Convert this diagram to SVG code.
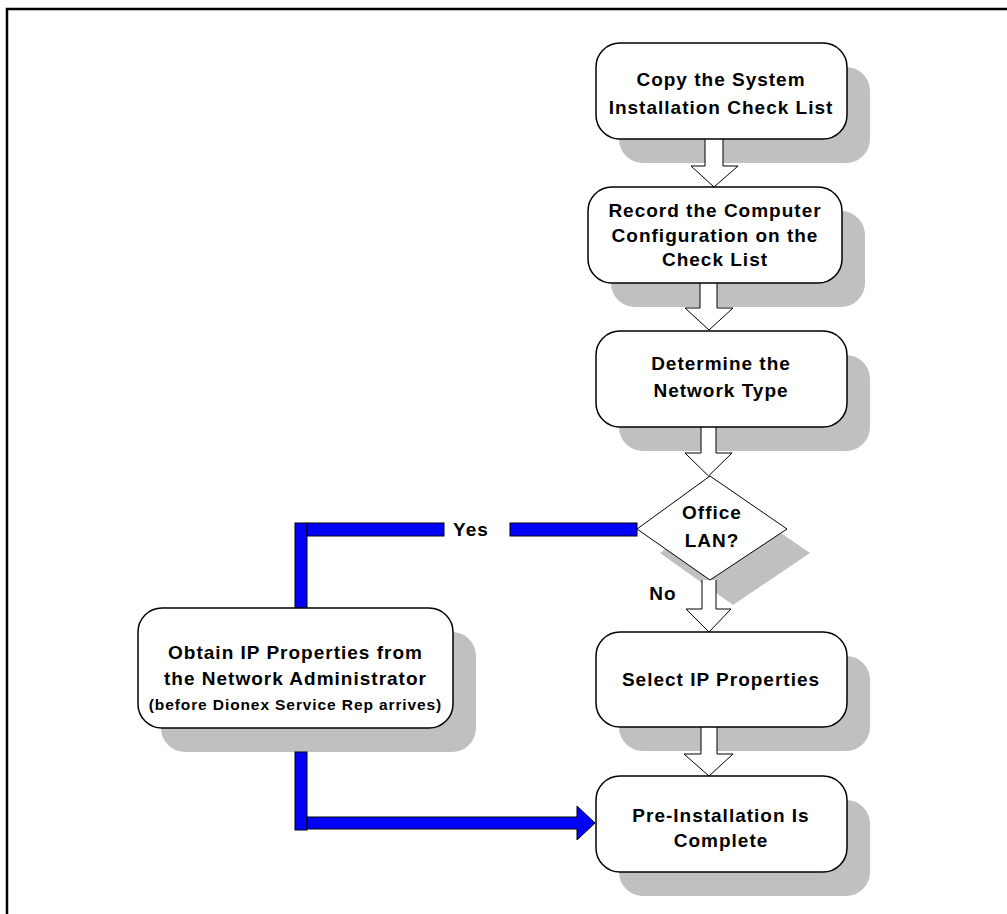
<svg xmlns="http://www.w3.org/2000/svg" width="1007" height="914" viewBox="0 0 1007 914">
<style>
.sh{fill:#c0c0c0;stroke:none}
.box{fill:#fff;stroke:#000;stroke-width:1.5}
.har{fill:#fff;stroke:#000;stroke-width:1}
.blue{fill:#0000ff;stroke:#000;stroke-width:1}
text{font-family:"Liberation Sans",Arial,sans-serif;font-weight:bold;font-size:19px;letter-spacing:1px;fill:#000;text-anchor:middle}
.sm{font-size:15.5px;letter-spacing:0.9px}
</style>
<rect x="0" y="0" width="1007" height="914" fill="#fff"/>
<path d="M7,914 V9 H1007" fill="none" stroke="#000" stroke-width="2.5"/>
<g id="shadows">
<rect class="sh" x="619" y="67" width="251" height="96" rx="24"/>
<rect class="sh" x="611" y="211" width="254" height="96" rx="24"/>
<rect class="sh" x="619" y="355" width="251" height="96" rx="24"/>
<polygon class="sh" points="733,500 810,553 733,605 660,553"/>
<rect class="sh" x="619" y="656" width="251" height="95" rx="24"/>
<rect class="sh" x="619" y="800" width="251" height="96" rx="24"/>
<rect class="sh" x="161" y="632" width="315" height="120" rx="24"/>
</g>
<g id="connectors">
<rect class="blue" x="295" y="523" width="12" height="85"/>
<rect class="blue" x="307" y="523" width="137" height="13"/>
<rect class="blue" x="510" y="523" width="127" height="13"/>
<rect class="blue" x="295" y="752" width="12" height="78"/>
<path class="blue" d="M307,817 H577 V806 L595,823 L577,840 V829 H307 Z"/>
<path class="har" d="M705,139 V166 H691 L714,187 L738,166 H723 V139"/>
<path class="har" d="M700,283 V308 H685 L709,330 L733,308 H717 V283"/>
<path class="har" d="M701,427 V453 H685 L708.5,476 L732,453 H716 V427"/>
<path class="har" d="M702,580 V609 H686 L709,632 L731,609 H716 V580"/>
<path class="har" d="M701,727 V754 H684 L709,776 L733,754 H717 V727"/>
<text x="471" y="536">Yes</text>
<text x="663" y="600">No</text>
</g>
<g id="n1">
<rect class="box" x="596" y="43" width="251" height="96" rx="24"/>
<text x="721" y="86">Copy the System</text>
<text x="721" y="114">Installation Check List</text>
</g>
<g id="n2">
<rect class="box" x="588" y="187" width="254" height="96" rx="24"/>
<text x="715" y="217">Record the Computer</text>
<text x="715" y="242">Configuration on the</text>
<text x="715" y="266">Check List</text>
</g>
<g id="n3">
<rect class="box" x="596" y="331" width="251" height="96" rx="24"/>
<text x="721" y="370">Determine the</text>
<text x="721" y="397">Network Type</text>
</g>
<g id="n4">
<polygon class="box" style="stroke-width:1" points="710,476 787,529 710,580 637,529"/>
<text x="712" y="519">Office</text>
<text x="712" y="547">LAN?</text>
</g>
<g id="n5">
<rect class="box" x="596" y="632" width="251" height="95" rx="24"/>
<text x="721" y="686">Select IP Properties</text>
</g>
<g id="n6">
<rect class="box" x="596" y="776" width="251" height="96" rx="24"/>
<text x="721" y="822">Pre-Installation Is</text>
<text x="721" y="847">Complete</text>
</g>
<g id="n7">
<rect class="box" x="138" y="608" width="315" height="120" rx="24"/>
<text x="295.5" y="659">Obtain IP Properties from</text>
<text x="295.5" y="685">the Network Administrator</text>
<text class="sm" x="295.5" y="710">(before Dionex Service Rep arrives)</text>
</g>
</svg>
